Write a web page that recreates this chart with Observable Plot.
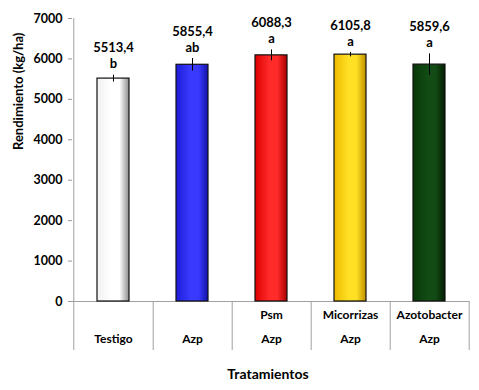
<!DOCTYPE html>
<html><head><meta charset="utf-8">
<script src="https://cdn.jsdelivr.net/npm/d3@7"></script>
<script src="https://cdn.jsdelivr.net/npm/@observablehq/plot@0.6"></script>
<style>body{margin:0;background:#fff}</style>
</head><body><div id="chart"></div>
<script>
const categories = ["T1", "T2", "T3", "T4", "T5"];
const labelTop = ["", "", "Psm", "Micorrizas", "Azotobacter"];
const labelBottom = ["Testigo", "Azp", "Azp", "Azp", "Azp"];
const yields = [5513.4, 5855.4, 6088.3, 6105.8, 5859.6];
const errors = [85, 155, 135, 55, 265];
const letters = ["b", "ab", "a", "a", "a"];
const yTicks = [0, 1000, 2000, 3000, 4000, 5000, 6000, 7000];
const yLabel = "Rendimiento (kg/ha)";
const xLabel = "Tratamientos";
const barGradients = [
  ["#f2f2f2", "#ffffff", "#8e8e8e"],
  ["#1c1cd8", "#3a3aff", "#1212a8"],
  ["#dc0000", "#ff2a2a", "#a80000"],
  ["#eebb00", "#ffe024", "#c09000"],
  ["#083608", "#124c14", "#031e03"]
];

const data = categories.map((c, i) => ({cat: c, v: yields[i], e: errors[i], letter: letters[i], idx: i}));
const W = 479, H = 390, mL = 72, mR = 10, mT = 18, mB = 89;
const step = (W - mL - mR) / categories.length;
const frameH = H - mT - mB;
const font = "Lato, 'Open Sans', sans-serif";
const fmt = v => v.toFixed(1).replace(".", ",");

const chart = Plot.plot({
  width: W, height: H,
  marginLeft: mL, marginRight: mR, marginTop: mT, marginBottom: mB,
  style: {fontFamily: font, fontSize: "12px", fontWeight: "bold", background: "#fff", color: "#000"},
  x: {domain: categories, paddingInner: 0.6, paddingOuter: 0.3, axis: null},
  y: {domain: [0, 7000], axis: null},
  color: {type: "identity"},
  marks: [
    Plot.axisY({ticks: yTicks, tickFormat: d => String(d), tickSize: 4, tickPadding: 6, stroke: "#999", fill: "#000", label: null, fontWeight: "bold", fontSize: 12.5}),
    Plot.ruleY([0], {stroke: "#a0a0a0"}),
    Plot.ruleX([categories[0]], {x: d => d, dx: -step / 2, stroke: "#a0a0a0", insetBottom: -49}),
    Plot.ruleX(categories, {x: d => d, dx: step / 2, stroke: "#a0a0a0", insetTop: frameH, insetBottom: -49}),
    Plot.barY(data, {x: "cat", y: "v", fill: d => `url(#grad${d.idx})`, stroke: "#111", strokeWidth: 1.2}),
    Plot.ruleX(data, {x: "cat", y1: d => d.v - d.e, y2: d => d.v + d.e, stroke: "#000", strokeWidth: 1}),
    Plot.ruleY(data, {x: "cat", y: d => d.v + d.e, insetLeft: 13, insetRight: 13, stroke: "#000"}),
    Plot.ruleY(data, {x: "cat", y: d => d.v - d.e, insetLeft: 13, insetRight: 13, stroke: "#000"}),
    Plot.text(data, {x: "cat", y: d => d.v + d.e, text: d => fmt(d.v), dy: -27, fontSize: 13, fontWeight: "bold"}),
    Plot.text(data, {x: "cat", y: d => d.v + d.e, text: "letter", dy: -11, fontSize: 13, fontWeight: "bold"}),
    Plot.text(categories, {x: d => d, text: (d, i) => labelTop[i], frameAnchor: "bottom", dy: 17, fontSize: 12, fontWeight: "bold"}),
    Plot.text(categories, {x: d => d, text: (d, i) => labelBottom[i], frameAnchor: "bottom", dy: 41, fontSize: 12, fontWeight: "bold"}),
    Plot.text([xLabel], {frameAnchor: "bottom", dy: 77, dx: -3, fontSize: 14, fontWeight: "bold"}),
    Plot.text([yLabel], {frameAnchor: "left", dx: -54, dy: -10, rotate: -90, fontSize: 13, fontWeight: "bold"})
  ]
});

const defs = d3.select(chart).insert("defs", ":first-child");
barGradients.forEach((g, i) => {
  const lg = defs.append("linearGradient").attr("id", `grad${i}`).attr("x1", "0").attr("x2", "1").attr("y1", "0").attr("y2", "0");
  [[0, g[0]], [0.45, g[1]], [0.7, g[1]], [1, g[2]]].forEach(([o, c]) =>
    lg.append("stop").attr("offset", o).attr("stop-color", c));
});
document.getElementById("chart").append(chart);
</script>
</body></html>
